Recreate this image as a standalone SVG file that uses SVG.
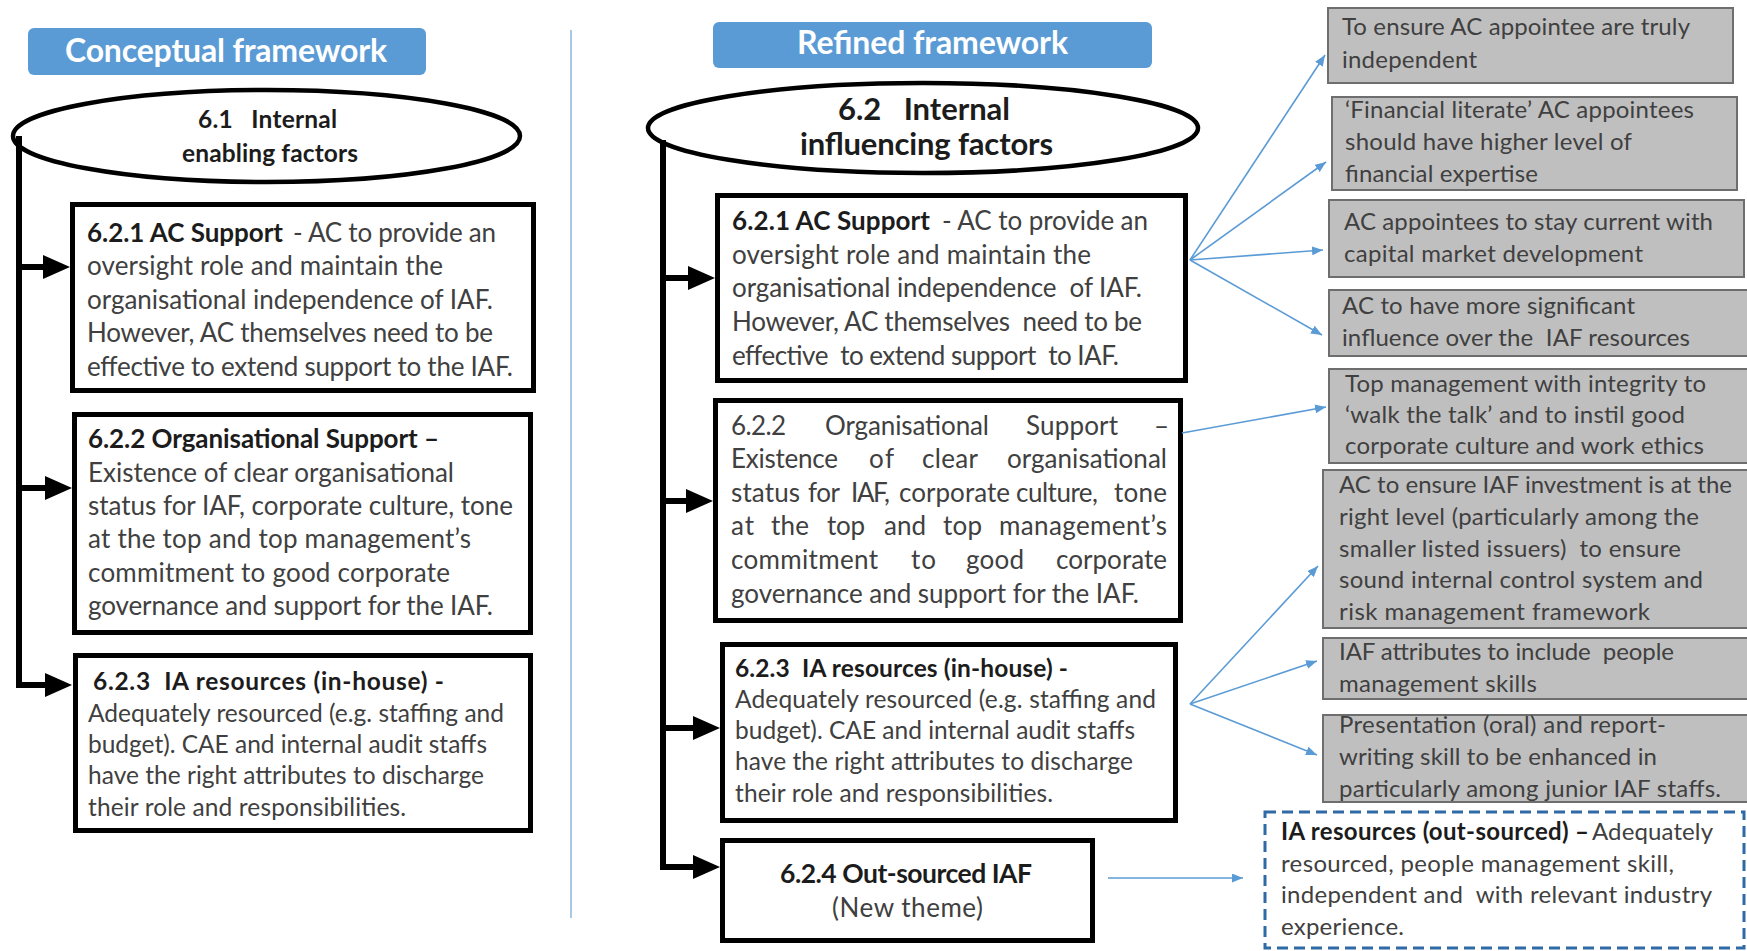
<svg xmlns="http://www.w3.org/2000/svg" width="1747" height="951" viewBox="0 0 1747 951">
  <style>
    text { font-family: Lato, "Liberation Sans", "DejaVu Sans", sans-serif; white-space: pre; }
    .r { fill: #404040; font-weight: 400; }
    .b { fill: #1c1c1c; font-weight: 700; }
    .w { fill: #ffffff; font-weight: 700; font-size: 32px; }
    .s26 { font-size: 26px; }
    .s24 { font-size: 24.5px; }
    .sg { font-size: 24px; }
    .title { fill: #5b9bd5; }
    .oval { fill: #ffffff; stroke: #000000; stroke-width: 4.5; }
    .box { fill: #ffffff; stroke: #000000; stroke-width: 5; }
    .grey { fill: #bfbfbf; stroke: #6e6e6e; stroke-width: 2; }
    .dash { fill: #ffffff; stroke: #2e6aa6; stroke-width: 3; stroke-dasharray: 11 6; }
    .trunk { fill: none; stroke: #000000; stroke-width: 6; }
    .thin { fill: none; stroke: #5b9bd5; stroke-width: 1.6; }
    .divider { stroke: #a9c8e8; stroke-width: 2; }
  </style>
  <defs>
    <marker id="headBlack" markerUnits="userSpaceOnUse" viewBox="0 0 27 24" markerWidth="27" markerHeight="24" refX="1" refY="12" orient="auto">
      <path d="M0,0 L27,12 L0,24 z" fill="#000000"/>
    </marker>
    <marker id="headBlue" markerUnits="userSpaceOnUse" viewBox="0 0 11 9" markerWidth="11" markerHeight="9" refX="11" refY="4.5" orient="auto">
      <path d="M0,0 L11,4.5 L0,9 z" fill="#5b9bd5"/>
    </marker>
  </defs>

  <rect x="0" y="0" width="1747" height="951" fill="#ffffff"/>

  <!-- column divider -->
  <line class="divider" x1="571" y1="30" x2="571" y2="918"/>

  <!-- ===== left column ===== -->
  <g id="title-conceptual">
    <rect class="title" x="28" y="28" width="398" height="47" rx="6"/>
    <text class="w" x="65" y="62" textLength="322" lengthAdjust="spacing">Conceptual framework</text>
  </g>

  <g id="c-internal-enabling">
    <ellipse class="oval" cx="266.5" cy="136" rx="253.5" ry="46"/>
    <text class="b" font-size="24.5" x="198" y="128" textLength="139" lengthAdjust="spacing" xml:space="preserve">6.1   Internal</text>
    <text class="b" font-size="24.5" x="182" y="162" textLength="176" lengthAdjust="spacing">enabling factors</text>
  </g>

  <g id="c-ac-support">
    <rect class="box" x="72.5" y="204.5" width="461" height="186"/>
    <text class="b s26" x="87" y="242" textLength="196" lengthAdjust="spacing">6.2.1 AC Support</text>
    <text class="r s26" x="293" y="242" textLength="203" lengthAdjust="spacing">- AC to provide an</text>
    <text class="r s26" x="87" y="275" textLength="356" lengthAdjust="spacing">oversight role and maintain the</text>
    <text class="r s26" x="87" y="309" textLength="406" lengthAdjust="spacing">organisational independence of IAF.</text>
    <text class="r s26" x="87" y="342" textLength="406" lengthAdjust="spacing">However, AC themselves need to be</text>
    <text class="r s26" x="87" y="376" textLength="426" lengthAdjust="spacing">effective to extend support to the IAF.</text>
  </g>

  <g id="c-org-support">
    <rect class="box" x="74.5" y="414.5" width="456" height="218"/>
    <text class="b s26" x="88" y="448" textLength="351" lengthAdjust="spacing">6.2.2 Organisational Support –</text>
    <text class="r s26" x="88" y="482" textLength="366" lengthAdjust="spacing">Existence of clear organisational</text>
    <text class="r s26" x="88" y="515" textLength="425" lengthAdjust="spacing">status for IAF, corporate culture, tone</text>
    <text class="r s26" x="88" y="548" textLength="383" lengthAdjust="spacing">at the top and top management’s</text>
    <text class="r s26" x="88" y="582" textLength="362" lengthAdjust="spacing">commitment to good corporate</text>
    <text class="r s26" x="88" y="615" textLength="405" lengthAdjust="spacing">governance and support for the IAF.</text>
  </g>

  <g id="c-ia-resources">
    <rect class="box" x="75.5" y="655.5" width="455" height="175"/>
    <text class="b s24" x="93" y="690" textLength="351" lengthAdjust="spacing" xml:space="preserve">6.2.3  IA resources (in-house) -</text>
    <text class="r s24" x="88" y="722" textLength="416" lengthAdjust="spacing">Adequately resourced (e.g. staffing and</text>
    <text class="r s24" x="88" y="753" textLength="399" lengthAdjust="spacing">budget). CAE and internal audit staffs</text>
    <text class="r s24" x="88" y="784" textLength="396" lengthAdjust="spacing">have the right attributes to discharge</text>
    <text class="r s24" x="88" y="816" textLength="318" lengthAdjust="spacing">their role and responsibilities.</text>
  </g>

  <!-- ===== middle column ===== -->
  <g id="title-refined">
    <rect class="title" x="713" y="22" width="439" height="46" rx="6"/>
    <text class="w" x="797" y="54" textLength="271" lengthAdjust="spacing">Refined framework</text>
  </g>

  <g id="r-internal-influencing">
    <ellipse class="oval" cx="923" cy="128" rx="275" ry="45"/>
    <text class="b" font-size="31" x="838" y="120" textLength="172" lengthAdjust="spacing" xml:space="preserve">6.2   Internal</text>
    <text class="b" font-size="31" x="800" y="155" textLength="253" lengthAdjust="spacing">influencing factors</text>
  </g>

  <g id="r-ac-support">
    <rect class="box" x="717.5" y="195.5" width="468" height="185"/>
    <text class="b s26" x="732" y="230" textLength="198" lengthAdjust="spacing">6.2.1 AC Support</text>
    <text class="r s26" x="942" y="230" textLength="206" lengthAdjust="spacing">- AC to provide an</text>
    <text class="r s26" x="732" y="264" textLength="359" lengthAdjust="spacing">oversight role and maintain the</text>
    <text class="r s26" x="732" y="297" textLength="410" lengthAdjust="spacing" xml:space="preserve">organisational independence  of IAF.</text>
    <text class="r s26" x="732" y="331" textLength="410" lengthAdjust="spacing" xml:space="preserve">However, AC themselves  need to be</text>
    <text class="r s26" x="732" y="365" textLength="387" lengthAdjust="spacing" xml:space="preserve">effective  to extend support  to IAF.</text>
  </g>

  <g id="r-org-support">
    <rect class="box" x="715.5" y="400.5" width="465" height="220"/>
    <!-- justified paragraph: each word placed and sized on its own -->
    <text class="r s26" x="731" y="435" textLength="55" lengthAdjust="spacing">6.2.2</text>
    <text class="r s26" x="825" y="435" textLength="164" lengthAdjust="spacing">Organisational</text>
    <text class="r s26" x="1026" y="435" textLength="92" lengthAdjust="spacing">Support</text>
    <text class="r s26" x="1154" y="435">–</text>

    <text class="r s26" x="731" y="468" textLength="107" lengthAdjust="spacing">Existence</text>
    <text class="r s26" x="869" y="468" textLength="25" lengthAdjust="spacing">of</text>
    <text class="r s26" x="922" y="468" textLength="56" lengthAdjust="spacing">clear</text>
    <text class="r s26" x="1007" y="468" textLength="160" lengthAdjust="spacing">organisational</text>

    <text class="r s26" x="731" y="502" textLength="69" lengthAdjust="spacing">status</text>
    <text class="r s26" x="808" y="502" textLength="32" lengthAdjust="spacing">for</text>
    <text class="r s26" x="851" y="502" textLength="39" lengthAdjust="spacing">IAF,</text>
    <text class="r s26" x="899" y="502" textLength="111" lengthAdjust="spacing">corporate</text>
    <text class="r s26" x="1016" y="502" textLength="82" lengthAdjust="spacing">culture,</text>
    <text class="r s26" x="1114" y="502" textLength="53" lengthAdjust="spacing">tone</text>

    <text class="r s26" x="731" y="535" textLength="23" lengthAdjust="spacing">at</text>
    <text class="r s26" x="771" y="535" textLength="38" lengthAdjust="spacing">the</text>
    <text class="r s26" x="827" y="535" textLength="38" lengthAdjust="spacing">top</text>
    <text class="r s26" x="884" y="535" textLength="42" lengthAdjust="spacing">and</text>
    <text class="r s26" x="943" y="535" textLength="39" lengthAdjust="spacing">top</text>
    <text class="r s26" x="999" y="535" textLength="168" lengthAdjust="spacing">management’s</text>

    <text class="r s26" x="731" y="569" textLength="147" lengthAdjust="spacing">commitment</text>
    <text class="r s26" x="911" y="569" textLength="25" lengthAdjust="spacing">to</text>
    <text class="r s26" x="966" y="569" textLength="58" lengthAdjust="spacing">good</text>
    <text class="r s26" x="1056" y="569" textLength="111" lengthAdjust="spacing">corporate</text>

    <text class="r s26" x="731" y="603" textLength="408" lengthAdjust="spacing">governance and support for the IAF.</text>
  </g>

  <g id="r-ia-resources">
    <rect class="box" x="722.5" y="644.5" width="453" height="176"/>
    <text class="b s24" x="735" y="677" textLength="333" lengthAdjust="spacing" xml:space="preserve">6.2.3  IA resources (in-house) -</text>
    <text class="r s24" x="735" y="708" textLength="421" lengthAdjust="spacing">Adequately resourced (e.g. staffing and</text>
    <text class="r s24" x="735" y="739" textLength="400" lengthAdjust="spacing">budget). CAE and internal audit staffs</text>
    <text class="r s24" x="735" y="770" textLength="398" lengthAdjust="spacing">have the right attributes to discharge</text>
    <text class="r s24" x="735" y="802" textLength="318" lengthAdjust="spacing">their role and responsibilities.</text>
  </g>

  <g id="r-outsourced">
    <rect class="box" x="722.5" y="840.5" width="370" height="100"/>
    <text class="b" font-size="26.5" x="780" y="883" textLength="252" lengthAdjust="spacing">6.2.4 Out-sourced IAF</text>
    <text class="r s26" x="832" y="917" textLength="151" lengthAdjust="spacing">(New theme)</text>
  </g>

  <!-- ===== right column: refinements ===== -->
  <g id="n-independent">
    <rect class="grey" x="1328" y="8" width="405" height="75"/>
    <text class="r sg" x="1342" y="35" textLength="348" lengthAdjust="spacing">To ensure AC appointee are truly</text>
    <text class="r sg" x="1342" y="68" textLength="135" lengthAdjust="spacing">independent</text>
  </g>

  <g id="n-financial-literate">
    <rect class="grey" x="1332" y="97" width="405" height="93"/>
    <text class="r sg" x="1345" y="118" textLength="349" lengthAdjust="spacing">‘Financial literate’ AC appointees</text>
    <text class="r sg" x="1345" y="150" textLength="287" lengthAdjust="spacing">should have higher level of</text>
    <text class="r sg" x="1345" y="182" textLength="193" lengthAdjust="spacing">financial expertise</text>
  </g>

  <g id="n-stay-current">
    <rect class="grey" x="1329" y="200" width="415" height="77"/>
    <text class="r sg" x="1344" y="230" textLength="369" lengthAdjust="spacing">AC appointees to stay current with</text>
    <text class="r sg" x="1344" y="262" textLength="299" lengthAdjust="spacing">capital market development</text>
  </g>

  <g id="n-influence">
    <rect class="grey" x="1329" y="290" width="425" height="66"/>
    <text class="r sg" x="1342" y="314" textLength="293" lengthAdjust="spacing">AC to have more significant</text>
    <text class="r sg" x="1342" y="346" textLength="348" lengthAdjust="spacing" xml:space="preserve">influence over the  IAF resources</text>
  </g>

  <g id="n-top-management">
    <rect class="grey" x="1329" y="369" width="425" height="94"/>
    <text class="r sg" x="1345" y="392" textLength="361" lengthAdjust="spacing">Top management with integrity to</text>
    <text class="r sg" x="1345" y="423" textLength="340" lengthAdjust="spacing">‘walk the talk’ and to instil good</text>
    <text class="r sg" x="1345" y="454" textLength="359" lengthAdjust="spacing">corporate culture and work ethics</text>
  </g>

  <g id="n-investment">
    <rect class="grey" x="1323" y="470" width="431" height="158"/>
    <text class="r sg" x="1339" y="493" textLength="393" lengthAdjust="spacing">AC to ensure IAF investment is at the</text>
    <text class="r sg" x="1339" y="525" textLength="360" lengthAdjust="spacing">right level (particularly among the</text>
    <text class="r sg" x="1339" y="557" textLength="342" lengthAdjust="spacing" xml:space="preserve">smaller listed issuers)  to ensure</text>
    <text class="r sg" x="1339" y="588" textLength="364" lengthAdjust="spacing">sound internal control system and</text>
    <text class="r sg" x="1339" y="620" textLength="311" lengthAdjust="spacing">risk management framework</text>
  </g>

  <g id="n-people-skills">
    <rect class="grey" x="1323" y="638" width="431" height="61"/>
    <text class="r sg" x="1339" y="660" textLength="335" lengthAdjust="spacing" xml:space="preserve">IAF attributes to include  people</text>
    <text class="r sg" x="1339" y="692" textLength="198" lengthAdjust="spacing">management skills</text>
  </g>

  <g id="n-presentation">
    <rect class="grey" x="1323" y="715" width="431" height="87"/>
    <text class="r sg" x="1339" y="733" textLength="327" lengthAdjust="spacing">Presentation (oral) and report-</text>
    <text class="r sg" x="1339" y="765" textLength="318" lengthAdjust="spacing">writing skill to be enhanced in</text>
    <text class="r sg" x="1339" y="797" textLength="382" lengthAdjust="spacing">particularly among junior IAF staffs.</text>
  </g>

  <g id="n-outsourced-resources">
    <rect class="dash" x="1265" y="812" width="479" height="136"/>
    <text class="b sg" x="1281" y="840" textLength="308" lengthAdjust="spacing">IA resources (out-sourced) –</text>
    <text class="r sg" x="1592" y="840" textLength="121" lengthAdjust="spacing">Adequately</text>
    <text class="r sg" x="1281" y="872" textLength="393" lengthAdjust="spacing">resourced, people management skill,</text>
    <text class="r sg" x="1281" y="903" textLength="431" lengthAdjust="spacing" xml:space="preserve">independent and  with relevant industry</text>
    <text class="r sg" x="1281" y="935" textLength="123" lengthAdjust="spacing">experience.</text>
  </g>

  <!-- ===== connectors ===== -->
  <g id="connectors">
    <!-- left column trunk and branches -->
    <path class="trunk" d="M19,136 V685 H46" marker-end="url(#headBlack)"/>
    <path class="trunk" d="M16,267 H44" marker-end="url(#headBlack)"/>
    <path class="trunk" d="M16,488 H46" marker-end="url(#headBlack)"/>
    <!-- middle column trunk and branches -->
    <path class="trunk" d="M663,140 V867 H694" marker-end="url(#headBlack)"/>
    <path class="trunk" d="M660,278 H689" marker-end="url(#headBlack)"/>
    <path class="trunk" d="M660,501 H687" marker-end="url(#headBlack)"/>
    <path class="trunk" d="M660,728 H694" marker-end="url(#headBlack)"/>
    <!-- refinements from 6.2.1 -->
    <line class="thin" x1="1190" y1="260" x2="1325" y2="55" marker-end="url(#headBlue)"/>
    <line class="thin" x1="1190" y1="260" x2="1326" y2="162" marker-end="url(#headBlue)"/>
    <line class="thin" x1="1190" y1="260" x2="1323" y2="250" marker-end="url(#headBlue)"/>
    <line class="thin" x1="1190" y1="260" x2="1322" y2="335" marker-end="url(#headBlue)"/>
    <!-- refinement from 6.2.2 -->
    <line class="thin" x1="1182" y1="433" x2="1326" y2="407" marker-end="url(#headBlue)"/>
    <!-- refinements from 6.2.3 -->
    <line class="thin" x1="1190" y1="704" x2="1318" y2="566" marker-end="url(#headBlue)"/>
    <line class="thin" x1="1190" y1="704" x2="1317" y2="661" marker-end="url(#headBlue)"/>
    <line class="thin" x1="1190" y1="704" x2="1317" y2="755" marker-end="url(#headBlue)"/>
    <!-- refinement from 6.2.4 -->
    <line class="thin" x1="1108" y1="878" x2="1243" y2="878" marker-end="url(#headBlue)"/>
  </g>
</svg>
